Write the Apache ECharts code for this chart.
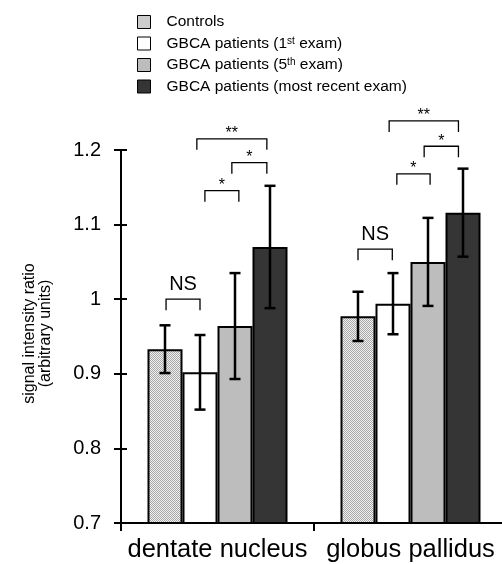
<!DOCTYPE html>
<html>
<head>
<meta charset="utf-8">
<script src="https://cdn.jsdelivr.net/npm/echarts@6/dist/echarts.min.js"></script>
<style>
  html, body { margin: 0; padding: 0; background: #fff; }
  #chart { width: 502px; height: 564px; }
</style>
</head>
<body>
<div id="chart"></div>
<script>
// values
var categories = ['dentate nucleus', 'globus pallidus'];
var seriesNames = ['Controls', 'GBCA patients (1st exam)', 'GBCA patients (5th exam)', 'GBCA patients (most recent exam)'];
var controls = [0.933, 0.977];
var firstExam = [0.902, 0.994];
var fifthExam = [0.964, 1.050];
var recentExam = [1.070, 1.116];
var controlsErr = [0.032, 0.033];
var firstErr = [0.050, 0.041];
var fifthErr = [0.071, 0.059];
var recentErr = [0.082, 0.059];

// significance brackets: category, from slot, to slot, level, label
var bracketCat = [0, 0, 0, 0, 1, 1, 1, 1];
var bracketFrom = [0.03, 1.14, 1.91, 0.91, 0.0, 1.11, 1.89, 0.89];
var bracketTo = [1.0, 2.11, 2.91, 2.91, 0.98, 2.06, 2.87, 2.87];
var bracketLevel = [1.000, 1.1455, 1.183, 1.215, 1.067, 1.168, 1.205, 1.239];
var bracketLabel = ['NS', '*', '*', '**', 'NS', '*', '*', '**'];

var FONT = 'Liberation Sans, Arial, sans-serif';
var barW = 35;

// stipple fill for controls
var pc = document.createElement('canvas');
pc.width = 2; pc.height = 2;
var pctx = pc.getContext('2d');
pctx.fillStyle = '#f0f0f0'; pctx.fillRect(0, 0, 2, 2);
pctx.fillStyle = '#a8a8a8'; pctx.fillRect(0, 0, 1, 1); pctx.fillRect(1, 1, 1, 1);

var colors = [{ image: pc, repeat: 'repeat' }, '#ffffff', '#bdbdbd', '#353535'];
var means = [controls, firstExam, fifthExam, recentExam];
var errs = [controlsErr, firstErr, fifthErr, recentErr];

var errData = [];
for (var k = 0; k < 4; k++) {
  for (var j = 0; j < categories.length; j++) {
    errData.push([j, k, means[k][j] - errs[k][j], means[k][j] + errs[k][j]]);
  }
}
var bracketData = [];
for (var b = 0; b < bracketCat.length; b++) {
  bracketData.push([bracketCat[b], bracketFrom[b], bracketTo[b], bracketLevel[b]]);
}

var chart = echarts.init(document.getElementById('chart'));

var barSeries = seriesNames.map(function (name, k) {
  return {
    name: name,
    type: 'bar',
    data: means[k],
    barWidth: barW,
    barGap: '0%',
    itemStyle: { color: colors[k], borderColor: '#000', borderWidth: 2 },
    z: 2
  };
});

var option = {
  animation: false,
  backgroundColor: '#fff',
  legend: {
    data: seriesNames,
    orient: 'vertical',
    left: 137,
    top: 14,
    padding: 0,
    itemWidth: 13,
    itemHeight: 13,
    itemGap: 5.5,
    icon: 'rect',
    itemStyle: { borderColor: '#000', borderWidth: 1 },
    textStyle: {
      fontFamily: FONT, fontSize: 15.5, color: '#000', padding: [0, 0, 0, 11],
      rich: {
        t: { fontFamily: FONT, fontSize: 15.5, color: '#000', lineHeight: 15 },
        sup: { fontFamily: FONT, fontSize: 10, color: '#000', lineHeight: 10, verticalAlign: 'top' }
      }
    },
    formatter: function (name) {
      if (name === seriesNames[1]) return '{t|GBCA patients (1}{sup|st}{t| exam)}';
      if (name === seriesNames[2]) return '{t|GBCA patients (5}{sup|th}{t| exam)}';
      return '{t|' + name + '}';
    }
  },
  grid: { left: 121, right: -5, top: 150, bottom: 41, containLabel: false, outerBoundsMode: 'none' },
  xAxis: {
    type: 'category',
    data: categories,
    axisLine: { show: true, lineStyle: { color: '#000', width: 2 } },
    axisTick: { show: true, interval: 0, alignWithLabel: false, length: 8, lineStyle: { color: '#000', width: 2 } },
    axisLabel: { interval: 0, fontFamily: FONT, fontSize: 25.5, color: '#000', margin: 14 }
  },
  yAxis: [{
    type: 'value',
    min: 0.7,
    max: 1.2,
    interval: 0.1,
    name: 'signal intensity ratio\n(arbitrary units)',
    nameLocation: 'middle',
    nameGap: 67,
    nameTextStyle: { fontFamily: FONT, fontSize: 16, color: '#000', lineHeight: 16, padding: [0, 0, 0, 6] },
    axisLine: { show: true, lineStyle: { color: '#000', width: 2 } },
    axisTick: { show: true, length: 7, lineStyle: { color: '#000', width: 2 } },
    axisLabel: {
      fontFamily: FONT, fontSize: 20, color: '#000', margin: 20,
      formatter: function (v) { return String(+v.toFixed(1)); }
    },
    splitLine: { show: false }
  }, {
    type: 'value',
    position: 'left',
    min: 0.7,
    max: 1.2,
    interval: 0.1,
    axisLine: { show: false },
    axisTick: { show: true, inside: true, length: 6, lineStyle: { color: '#000', width: 2 } },
    axisLabel: { show: false },
    splitLine: { show: false }
  }],
  series: barSeries.concat([{
    type: 'custom',
    name: 'errors',
    z: 5,
    data: errData,
    renderItem: function (params, api) {
      var lo = api.coord([api.value(0), api.value(2)]);
      var hi = api.coord([api.value(0), api.value(3)]);
      var x = lo[0] + (api.value(1) - 1.5) * barW;
      var st = { stroke: '#000', lineWidth: 2.5 };
      return {
        type: 'group',
        children: [
          { type: 'line', shape: { x1: x, y1: lo[1], x2: x, y2: hi[1] }, style: st },
          { type: 'line', shape: { x1: x - 5.5, y1: lo[1], x2: x + 5.5, y2: lo[1] }, style: st },
          { type: 'line', shape: { x1: x - 5.5, y1: hi[1], x2: x + 5.5, y2: hi[1] }, style: st }
        ]
      };
    }
  }, {
    type: 'custom',
    name: 'brackets',
    z: 5,
    clip: false,
    data: bracketData,
    renderItem: function (params, api) {
      var p = api.coord([api.value(0), api.value(3)]);
      var x1 = p[0] + (api.value(1) - 1.5) * barW;
      var x2 = p[0] + (api.value(2) - 1.5) * barW;
      var y = p[1];
      var label = bracketLabel[params.dataIndex];
      var isNS = label === 'NS';
      return {
        type: 'group',
        children: [
          {
            type: 'polyline',
            shape: { points: [[x1, y + 11], [x1, y], [x2, y], [x2, y + 11]] },
            style: { stroke: '#000', lineWidth: 1.3, fill: null }
          },
          {
            type: 'text',
            x: (x1 + x2) / 2,
            y: isNS ? y - 5 : y + 3,
            style: {
              text: label,
              fontFamily: FONT,
              fontSize: isNS ? 20 : 16,
              fill: '#000',
              align: 'center',
              verticalAlign: 'bottom'
            }
          }
        ]
      };
    }
  }])
};

chart.setOption(option);
</script>
</body>
</html>
